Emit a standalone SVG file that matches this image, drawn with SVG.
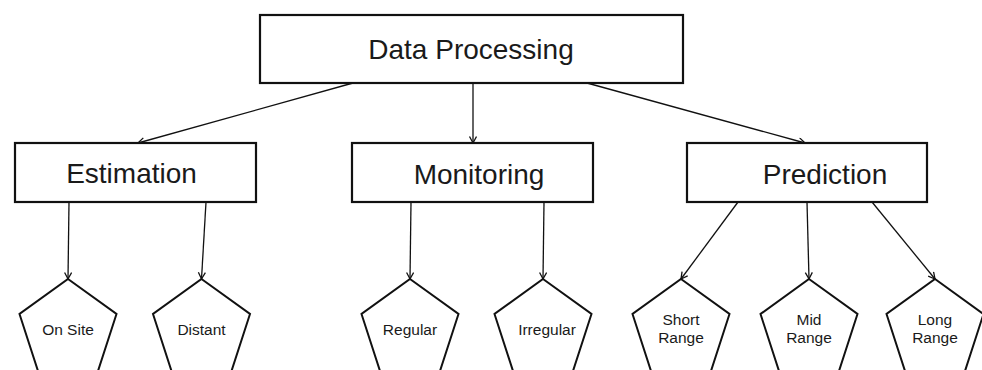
<svg xmlns="http://www.w3.org/2000/svg" width="982" height="370" viewBox="0 0 982 370">
<style>
.box{fill:#fff;stroke:#111;stroke-width:2.2}
.pent{fill:#fff;stroke:#111;stroke-width:2}
.lbl{font-family:"Liberation Sans",Arial,sans-serif;font-size:28px;fill:#1a1a1a;text-anchor:middle}
.sm{font-family:"Liberation Sans",Arial,sans-serif;font-size:15.5px;fill:#1a1a1a;text-anchor:middle}
.con{stroke:#111;stroke-width:1.3;fill:none;marker-end:url(#arr)}
</style>
<defs>
<marker id="arr" markerUnits="userSpaceOnUse" markerWidth="10" markerHeight="10" refX="7" refY="4" orient="auto">
<path d="M0.5,0.5 L7,4 L0.5,7.5" fill="none" stroke="#111" stroke-width="1.3"/>
</marker>
</defs>
<rect width="982" height="370" fill="#fff"/>
<g id="connectors">
<line class="con" x1="353" y1="83" x2="138" y2="143"/>
<line class="con" x1="473" y1="83" x2="473" y2="143"/>
<line class="con" x1="587" y1="83" x2="805" y2="143"/>
<line class="con" x1="69" y1="202" x2="68" y2="279"/>
<line class="con" x1="206" y1="202" x2="201.5" y2="279"/>
<line class="con" x1="411" y1="202" x2="410" y2="279"/>
<line class="con" x1="544" y1="202" x2="543" y2="279"/>
<line class="con" x1="738" y1="202" x2="681" y2="279"/>
<line class="con" x1="807" y1="202" x2="809" y2="279"/>
<line class="con" x1="872" y1="202" x2="935" y2="279"/>
</g>
<g id="data-processing">
<rect class="box" x="260" y="15" width="423" height="68"/>
<text class="lbl" x="471" y="59">Data Processing</text>
</g>
<g id="estimation">
<rect class="box" x="15" y="143" width="241" height="59"/>
<text class="lbl" x="131.5" y="183">Estimation</text>
</g>
<g id="monitoring">
<rect class="box" x="352" y="143" width="241" height="59"/>
<text class="lbl" x="479" y="184">Monitoring</text>
</g>
<g id="prediction">
<rect class="box" x="687" y="143" width="240" height="59"/>
<text class="lbl" x="825" y="184">Prediction</text>
</g>
<g id="on-site">
<polygon class="pent" points="68,279 116.5,314 98,371 38,371 19.5,314"/>
<text class="sm" x="68" y="335">On Site</text>
</g>
<g id="distant">
<polygon class="pent" points="201.5,279 250,314 231.5,371 171.5,371 153,314"/>
<text class="sm" x="201.5" y="335">Distant</text>
</g>
<g id="regular">
<polygon class="pent" points="410,279 458.5,314 440,371 380,371 361.5,314"/>
<text class="sm" x="410" y="335">Regular</text>
</g>
<g id="irregular">
<polygon class="pent" points="543,279 591.5,314 573,371 513,371 494.5,314"/>
<text class="sm" x="547" y="335">Irregular</text>
</g>
<g id="short-range">
<polygon class="pent" points="681,279 729.5,314 711,371 651,371 632.5,314"/>
<text class="sm" x="681" y="325">Short</text>
<text class="sm" x="681" y="343">Range</text>
</g>
<g id="mid-range">
<polygon class="pent" points="809,279 857.5,314 839,371 779,371 760.5,314"/>
<text class="sm" x="809" y="325">Mid</text>
<text class="sm" x="809" y="343">Range</text>
</g>
<g id="long-range">
<polygon class="pent" points="935,279 983.5,314 965,371 905,371 886.5,314"/>
<text class="sm" x="935" y="325">Long</text>
<text class="sm" x="935" y="343">Range</text>
</g>
</svg>
